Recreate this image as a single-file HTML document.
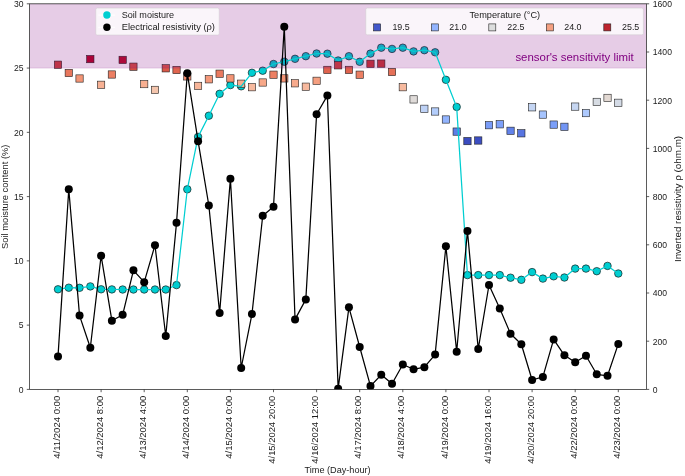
<!DOCTYPE html>
<html><head><meta charset="utf-8"><style>
html,body{margin:0;padding:0;background:#fff;}
body{width:685px;height:476px;overflow:hidden;font-family:"Liberation Sans",sans-serif;}
svg{display:block;will-change:transform;}
</style></head><body>
<svg width="685" height="476" viewBox="0 0 685 476" font-family="Liberation Sans, sans-serif">
<rect x="0" y="0" width="685" height="476" fill="#fff"/>
<defs><clipPath id="ax"><rect x="29.6" y="3.8" width="616.80" height="385.60"/></clipPath></defs>
<g clip-path="url(#ax)">
<circle cx="58.00" cy="289.30" r="3.75" fill="#00ced1" stroke="#111" stroke-width="0.65"/>
<circle cx="68.78" cy="287.70" r="3.75" fill="#00ced1" stroke="#111" stroke-width="0.65"/>
<circle cx="79.55" cy="287.80" r="3.75" fill="#00ced1" stroke="#111" stroke-width="0.65"/>
<circle cx="90.33" cy="286.40" r="3.75" fill="#00ced1" stroke="#111" stroke-width="0.65"/>
<circle cx="101.10" cy="289.30" r="3.75" fill="#00ced1" stroke="#111" stroke-width="0.65"/>
<circle cx="111.88" cy="289.40" r="3.75" fill="#00ced1" stroke="#111" stroke-width="0.65"/>
<circle cx="122.65" cy="289.50" r="3.75" fill="#00ced1" stroke="#111" stroke-width="0.65"/>
<circle cx="133.43" cy="289.50" r="3.75" fill="#00ced1" stroke="#111" stroke-width="0.65"/>
<circle cx="144.20" cy="289.50" r="3.75" fill="#00ced1" stroke="#111" stroke-width="0.65"/>
<circle cx="154.98" cy="289.50" r="3.75" fill="#00ced1" stroke="#111" stroke-width="0.65"/>
<circle cx="165.75" cy="289.50" r="3.75" fill="#00ced1" stroke="#111" stroke-width="0.65"/>
<circle cx="176.53" cy="285.10" r="3.75" fill="#00ced1" stroke="#111" stroke-width="0.65"/>
<circle cx="187.30" cy="189.30" r="3.75" fill="#00ced1" stroke="#111" stroke-width="0.65"/>
<circle cx="198.08" cy="136.90" r="3.75" fill="#00ced1" stroke="#111" stroke-width="0.65"/>
<circle cx="208.85" cy="115.70" r="3.75" fill="#00ced1" stroke="#111" stroke-width="0.65"/>
<circle cx="219.62" cy="93.80" r="3.75" fill="#00ced1" stroke="#111" stroke-width="0.65"/>
<circle cx="230.40" cy="85.10" r="3.75" fill="#00ced1" stroke="#111" stroke-width="0.65"/>
<circle cx="241.18" cy="86.30" r="3.75" fill="#00ced1" stroke="#111" stroke-width="0.65"/>
<circle cx="251.95" cy="72.80" r="3.75" fill="#00ced1" stroke="#111" stroke-width="0.65"/>
<circle cx="262.73" cy="70.70" r="3.75" fill="#00ced1" stroke="#111" stroke-width="0.65"/>
<circle cx="273.50" cy="64.00" r="3.75" fill="#00ced1" stroke="#111" stroke-width="0.65"/>
<circle cx="284.27" cy="61.70" r="3.75" fill="#00ced1" stroke="#111" stroke-width="0.65"/>
<circle cx="295.05" cy="58.80" r="3.75" fill="#00ced1" stroke="#111" stroke-width="0.65"/>
<circle cx="305.83" cy="56.20" r="3.75" fill="#00ced1" stroke="#111" stroke-width="0.65"/>
<circle cx="316.60" cy="53.50" r="3.75" fill="#00ced1" stroke="#111" stroke-width="0.65"/>
<circle cx="327.38" cy="53.70" r="3.75" fill="#00ced1" stroke="#111" stroke-width="0.65"/>
<circle cx="338.15" cy="60.50" r="3.75" fill="#00ced1" stroke="#111" stroke-width="0.65"/>
<circle cx="348.93" cy="56.20" r="3.75" fill="#00ced1" stroke="#111" stroke-width="0.65"/>
<circle cx="359.70" cy="61.80" r="3.75" fill="#00ced1" stroke="#111" stroke-width="0.65"/>
<circle cx="370.48" cy="53.60" r="3.75" fill="#00ced1" stroke="#111" stroke-width="0.65"/>
<circle cx="381.25" cy="47.70" r="3.75" fill="#00ced1" stroke="#111" stroke-width="0.65"/>
<circle cx="392.03" cy="48.90" r="3.75" fill="#00ced1" stroke="#111" stroke-width="0.65"/>
<circle cx="402.80" cy="47.70" r="3.75" fill="#00ced1" stroke="#111" stroke-width="0.65"/>
<circle cx="413.57" cy="51.40" r="3.75" fill="#00ced1" stroke="#111" stroke-width="0.65"/>
<circle cx="424.35" cy="50.20" r="3.75" fill="#00ced1" stroke="#111" stroke-width="0.65"/>
<circle cx="435.12" cy="52.30" r="3.75" fill="#00ced1" stroke="#111" stroke-width="0.65"/>
<circle cx="445.90" cy="79.80" r="3.75" fill="#00ced1" stroke="#111" stroke-width="0.65"/>
<circle cx="456.68" cy="106.90" r="3.75" fill="#00ced1" stroke="#111" stroke-width="0.65"/>
<circle cx="467.45" cy="275.10" r="3.75" fill="#00ced1" stroke="#111" stroke-width="0.65"/>
<circle cx="478.23" cy="275.10" r="3.75" fill="#00ced1" stroke="#111" stroke-width="0.65"/>
<circle cx="489.00" cy="275.10" r="3.75" fill="#00ced1" stroke="#111" stroke-width="0.65"/>
<circle cx="499.78" cy="275.10" r="3.75" fill="#00ced1" stroke="#111" stroke-width="0.65"/>
<circle cx="510.55" cy="277.70" r="3.75" fill="#00ced1" stroke="#111" stroke-width="0.65"/>
<circle cx="521.33" cy="279.80" r="3.75" fill="#00ced1" stroke="#111" stroke-width="0.65"/>
<circle cx="532.10" cy="272.10" r="3.75" fill="#00ced1" stroke="#111" stroke-width="0.65"/>
<circle cx="542.88" cy="278.60" r="3.75" fill="#00ced1" stroke="#111" stroke-width="0.65"/>
<circle cx="553.65" cy="276.30" r="3.75" fill="#00ced1" stroke="#111" stroke-width="0.65"/>
<circle cx="564.42" cy="277.50" r="3.75" fill="#00ced1" stroke="#111" stroke-width="0.65"/>
<circle cx="575.20" cy="268.60" r="3.75" fill="#00ced1" stroke="#111" stroke-width="0.65"/>
<circle cx="585.98" cy="268.60" r="3.75" fill="#00ced1" stroke="#111" stroke-width="0.65"/>
<circle cx="596.75" cy="271.20" r="3.75" fill="#00ced1" stroke="#111" stroke-width="0.65"/>
<circle cx="607.52" cy="265.90" r="3.75" fill="#00ced1" stroke="#111" stroke-width="0.65"/>
<circle cx="618.30" cy="273.50" r="3.75" fill="#00ced1" stroke="#111" stroke-width="0.65"/>
<rect x="54.35" y="61.05" width="7.3" height="7.3" fill="#cc403a" stroke="#222" stroke-width="0.6"/>
<rect x="65.12" y="69.35" width="7.3" height="7.3" fill="#e8765c" stroke="#222" stroke-width="0.6"/>
<rect x="75.90" y="74.85" width="7.3" height="7.3" fill="#f39475" stroke="#222" stroke-width="0.6"/>
<rect x="86.67" y="55.45" width="7.3" height="7.3" fill="#b40426" stroke="#222" stroke-width="0.6"/>
<rect x="97.45" y="81.15" width="7.3" height="7.3" fill="#f7b194" stroke="#222" stroke-width="0.6"/>
<rect x="108.22" y="70.85" width="7.3" height="7.3" fill="#ec7f63" stroke="#222" stroke-width="0.6"/>
<rect x="119.00" y="56.25" width="7.3" height="7.3" fill="#b70d28" stroke="#222" stroke-width="0.6"/>
<rect x="129.78" y="63.05" width="7.3" height="7.3" fill="#d44e41" stroke="#222" stroke-width="0.6"/>
<rect x="140.55" y="80.45" width="7.3" height="7.3" fill="#f7af91" stroke="#222" stroke-width="0.6"/>
<rect x="151.33" y="86.25" width="7.3" height="7.3" fill="#f4c5ad" stroke="#222" stroke-width="0.6"/>
<rect x="162.10" y="64.65" width="7.3" height="7.3" fill="#d95847" stroke="#222" stroke-width="0.6"/>
<rect x="172.88" y="66.35" width="7.3" height="7.3" fill="#e0654f" stroke="#222" stroke-width="0.6"/>
<rect x="183.65" y="72.75" width="7.3" height="7.3" fill="#f08a6c" stroke="#222" stroke-width="0.6"/>
<rect x="194.43" y="82.25" width="7.3" height="7.3" fill="#f7b599" stroke="#222" stroke-width="0.6"/>
<rect x="205.20" y="75.65" width="7.3" height="7.3" fill="#f4987a" stroke="#222" stroke-width="0.6"/>
<rect x="215.97" y="70.05" width="7.3" height="7.3" fill="#e97a5f" stroke="#222" stroke-width="0.6"/>
<rect x="226.75" y="74.75" width="7.3" height="7.3" fill="#f39475" stroke="#222" stroke-width="0.6"/>
<rect x="237.53" y="80.05" width="7.3" height="7.3" fill="#f7ac8e" stroke="#222" stroke-width="0.6"/>
<rect x="248.30" y="83.55" width="7.3" height="7.3" fill="#f7ba9f" stroke="#222" stroke-width="0.6"/>
<rect x="259.08" y="78.85" width="7.3" height="7.3" fill="#f7a889" stroke="#222" stroke-width="0.6"/>
<rect x="269.85" y="71.05" width="7.3" height="7.3" fill="#ec7f63" stroke="#222" stroke-width="0.6"/>
<rect x="280.62" y="74.75" width="7.3" height="7.3" fill="#f39475" stroke="#222" stroke-width="0.6"/>
<rect x="291.40" y="79.65" width="7.3" height="7.3" fill="#f7aa8c" stroke="#222" stroke-width="0.6"/>
<rect x="302.18" y="83.05" width="7.3" height="7.3" fill="#f7b99e" stroke="#222" stroke-width="0.6"/>
<rect x="312.95" y="77.15" width="7.3" height="7.3" fill="#f59f80" stroke="#222" stroke-width="0.6"/>
<rect x="323.73" y="66.25" width="7.3" height="7.3" fill="#df634e" stroke="#222" stroke-width="0.6"/>
<rect x="334.50" y="61.65" width="7.3" height="7.3" fill="#cf453c" stroke="#222" stroke-width="0.6"/>
<rect x="345.28" y="66.25" width="7.3" height="7.3" fill="#df634e" stroke="#222" stroke-width="0.6"/>
<rect x="356.05" y="71.05" width="7.3" height="7.3" fill="#ec7f63" stroke="#222" stroke-width="0.6"/>
<rect x="366.83" y="60.15" width="7.3" height="7.3" fill="#c83836" stroke="#222" stroke-width="0.6"/>
<rect x="377.60" y="59.95" width="7.3" height="7.3" fill="#c83836" stroke="#222" stroke-width="0.6"/>
<rect x="388.38" y="68.35" width="7.3" height="7.3" fill="#e57058" stroke="#222" stroke-width="0.6"/>
<rect x="399.15" y="83.55" width="7.3" height="7.3" fill="#f7ba9f" stroke="#222" stroke-width="0.6"/>
<rect x="409.93" y="95.75" width="7.3" height="7.3" fill="#dfdbd9" stroke="#222" stroke-width="0.6"/>
<rect x="420.70" y="105.15" width="7.3" height="7.3" fill="#bed2f6" stroke="#222" stroke-width="0.6"/>
<rect x="431.48" y="107.85" width="7.3" height="7.3" fill="#b3cdfb" stroke="#222" stroke-width="0.6"/>
<rect x="442.25" y="115.85" width="7.3" height="7.3" fill="#92b4fe" stroke="#222" stroke-width="0.6"/>
<rect x="453.03" y="127.95" width="7.3" height="7.3" fill="#5e7de7" stroke="#222" stroke-width="0.6"/>
<rect x="463.80" y="137.45" width="7.3" height="7.3" fill="#3b4cc0" stroke="#222" stroke-width="0.6"/>
<rect x="474.58" y="136.85" width="7.3" height="7.3" fill="#3c4ec2" stroke="#222" stroke-width="0.6"/>
<rect x="485.35" y="121.55" width="7.3" height="7.3" fill="#799cf8" stroke="#222" stroke-width="0.6"/>
<rect x="496.13" y="120.65" width="7.3" height="7.3" fill="#7da0f9" stroke="#222" stroke-width="0.6"/>
<rect x="506.90" y="127.15" width="7.3" height="7.3" fill="#6282ea" stroke="#222" stroke-width="0.6"/>
<rect x="517.68" y="129.65" width="7.3" height="7.3" fill="#5875e1" stroke="#222" stroke-width="0.6"/>
<rect x="528.45" y="103.65" width="7.3" height="7.3" fill="#c4d5f3" stroke="#222" stroke-width="0.6"/>
<rect x="539.23" y="110.95" width="7.3" height="7.3" fill="#a6c4fe" stroke="#222" stroke-width="0.6"/>
<rect x="550.00" y="120.95" width="7.3" height="7.3" fill="#7b9ff9" stroke="#222" stroke-width="0.6"/>
<rect x="560.77" y="123.15" width="7.3" height="7.3" fill="#7295f4" stroke="#222" stroke-width="0.6"/>
<rect x="571.55" y="102.95" width="7.3" height="7.3" fill="#c6d6f1" stroke="#222" stroke-width="0.6"/>
<rect x="582.33" y="109.45" width="7.3" height="7.3" fill="#adc9fd" stroke="#222" stroke-width="0.6"/>
<rect x="593.10" y="98.25" width="7.3" height="7.3" fill="#d7dce3" stroke="#222" stroke-width="0.6"/>
<rect x="603.88" y="94.25" width="7.3" height="7.3" fill="#e3d9d3" stroke="#222" stroke-width="0.6"/>
<rect x="614.65" y="99.15" width="7.3" height="7.3" fill="#d4dbe6" stroke="#222" stroke-width="0.6"/>
<rect x="29.6" y="3.8" width="616.80" height="64.27" fill="#800080" fill-opacity="0.2" stroke="#800080" stroke-opacity="0.2" stroke-width="0.75"/>
<polyline points="58.00,289.30 68.78,287.70 79.55,287.80 90.33,286.40 101.10,289.30 111.88,289.40 122.65,289.50 133.43,289.50 144.20,289.50 154.98,289.50 165.75,289.50 176.53,285.10 187.30,189.30 198.08,136.90 208.85,115.70 219.62,93.80 230.40,85.10 241.18,86.30 251.95,72.80 262.73,70.70 273.50,64.00 284.27,61.70 295.05,58.80 305.83,56.20 316.60,53.50 327.38,53.70 338.15,60.50 348.93,56.20 359.70,61.80 370.48,53.60 381.25,47.70 392.03,48.90 402.80,47.70 413.57,51.40 424.35,50.20 435.12,52.30 445.90,79.80 456.68,106.90 467.45,275.10 478.23,275.10 489.00,275.10 499.78,275.10 510.55,277.70 521.33,279.80 532.10,272.10 542.88,278.60 553.65,276.30 564.42,277.50 575.20,268.60 585.98,268.60 596.75,271.20 607.52,265.90 618.30,273.50" fill="none" stroke="#00ced1" stroke-width="1.25" stroke-linejoin="round"/>
<text x="515.4" y="61.3" font-size="10.6" fill="#800080" textLength="118.4" lengthAdjust="spacingAndGlyphs">sensor's sensitivity limit</text>
<polyline points="58.00,356.40 68.78,189.25 79.55,315.60 90.33,347.80 101.10,255.70 111.88,320.70 122.65,314.80 133.43,270.30 144.20,282.20 154.98,245.20 165.75,336.00 176.53,222.70 187.30,73.20 198.08,141.20 208.85,205.50 219.62,312.90 230.40,178.70 241.18,368.00 251.95,314.10 262.73,215.70 273.50,206.70 284.27,26.75 295.05,319.40 305.83,299.40 316.60,114.30 327.38,95.60 338.15,388.70 348.93,307.30 359.70,347.00 370.48,386.10 381.25,374.80 392.03,383.70 402.80,364.50 413.57,369.30 424.35,367.20 435.12,354.60 445.90,246.30 456.68,351.70 467.45,231.00 478.23,349.10 489.00,285.00 499.78,308.40 510.55,333.80 521.33,344.20 532.10,380.00 542.88,376.90 553.65,339.40 564.42,355.30 575.20,362.30 585.98,355.70 596.75,374.30 607.52,375.80 618.30,343.90" fill="none" stroke="#000" stroke-width="1.25" stroke-linejoin="round"/>
<circle cx="58.00" cy="356.40" r="4.0" fill="#000"/>
<circle cx="68.78" cy="189.25" r="4.0" fill="#000"/>
<circle cx="79.55" cy="315.60" r="4.0" fill="#000"/>
<circle cx="90.33" cy="347.80" r="4.0" fill="#000"/>
<circle cx="101.10" cy="255.70" r="4.0" fill="#000"/>
<circle cx="111.88" cy="320.70" r="4.0" fill="#000"/>
<circle cx="122.65" cy="314.80" r="4.0" fill="#000"/>
<circle cx="133.43" cy="270.30" r="4.0" fill="#000"/>
<circle cx="144.20" cy="282.20" r="4.0" fill="#000"/>
<circle cx="154.98" cy="245.20" r="4.0" fill="#000"/>
<circle cx="165.75" cy="336.00" r="4.0" fill="#000"/>
<circle cx="176.53" cy="222.70" r="4.0" fill="#000"/>
<circle cx="187.30" cy="73.20" r="4.0" fill="#000"/>
<circle cx="198.08" cy="141.20" r="4.0" fill="#000"/>
<circle cx="208.85" cy="205.50" r="4.0" fill="#000"/>
<circle cx="219.62" cy="312.90" r="4.0" fill="#000"/>
<circle cx="230.40" cy="178.70" r="4.0" fill="#000"/>
<circle cx="241.18" cy="368.00" r="4.0" fill="#000"/>
<circle cx="251.95" cy="314.10" r="4.0" fill="#000"/>
<circle cx="262.73" cy="215.70" r="4.0" fill="#000"/>
<circle cx="273.50" cy="206.70" r="4.0" fill="#000"/>
<circle cx="284.27" cy="26.75" r="4.0" fill="#000"/>
<circle cx="295.05" cy="319.40" r="4.0" fill="#000"/>
<circle cx="305.83" cy="299.40" r="4.0" fill="#000"/>
<circle cx="316.60" cy="114.30" r="4.0" fill="#000"/>
<circle cx="327.38" cy="95.60" r="4.0" fill="#000"/>
<circle cx="338.15" cy="388.70" r="4.0" fill="#000"/>
<circle cx="348.93" cy="307.30" r="4.0" fill="#000"/>
<circle cx="359.70" cy="347.00" r="4.0" fill="#000"/>
<circle cx="370.48" cy="386.10" r="4.0" fill="#000"/>
<circle cx="381.25" cy="374.80" r="4.0" fill="#000"/>
<circle cx="392.03" cy="383.70" r="4.0" fill="#000"/>
<circle cx="402.80" cy="364.50" r="4.0" fill="#000"/>
<circle cx="413.57" cy="369.30" r="4.0" fill="#000"/>
<circle cx="424.35" cy="367.20" r="4.0" fill="#000"/>
<circle cx="435.12" cy="354.60" r="4.0" fill="#000"/>
<circle cx="445.90" cy="246.30" r="4.0" fill="#000"/>
<circle cx="456.68" cy="351.70" r="4.0" fill="#000"/>
<circle cx="467.45" cy="231.00" r="4.0" fill="#000"/>
<circle cx="478.23" cy="349.10" r="4.0" fill="#000"/>
<circle cx="489.00" cy="285.00" r="4.0" fill="#000"/>
<circle cx="499.78" cy="308.40" r="4.0" fill="#000"/>
<circle cx="510.55" cy="333.80" r="4.0" fill="#000"/>
<circle cx="521.33" cy="344.20" r="4.0" fill="#000"/>
<circle cx="532.10" cy="380.00" r="4.0" fill="#000"/>
<circle cx="542.88" cy="376.90" r="4.0" fill="#000"/>
<circle cx="553.65" cy="339.40" r="4.0" fill="#000"/>
<circle cx="564.42" cy="355.30" r="4.0" fill="#000"/>
<circle cx="575.20" cy="362.30" r="4.0" fill="#000"/>
<circle cx="585.98" cy="355.70" r="4.0" fill="#000"/>
<circle cx="596.75" cy="374.30" r="4.0" fill="#000"/>
<circle cx="607.52" cy="375.80" r="4.0" fill="#000"/>
<circle cx="618.30" cy="343.90" r="4.0" fill="#000"/>
</g>
<rect x="29.6" y="3.8" width="616.80" height="385.60" fill="none" stroke="#333" stroke-width="0.8"/>
<line x1="26.80" y1="389.40" x2="29.6" y2="389.40" stroke="#333" stroke-width="0.8"/>
<text x="23.6" y="392.70" font-size="8.6" fill="#1a1a1a" text-anchor="end">0</text>
<line x1="26.80" y1="325.13" x2="29.6" y2="325.13" stroke="#333" stroke-width="0.8"/>
<text x="23.6" y="328.43" font-size="8.6" fill="#1a1a1a" text-anchor="end">5</text>
<line x1="26.80" y1="260.87" x2="29.6" y2="260.87" stroke="#333" stroke-width="0.8"/>
<text x="23.6" y="264.17" font-size="8.6" fill="#1a1a1a" text-anchor="end">10</text>
<line x1="26.80" y1="196.60" x2="29.6" y2="196.60" stroke="#333" stroke-width="0.8"/>
<text x="23.6" y="199.90" font-size="8.6" fill="#1a1a1a" text-anchor="end">15</text>
<line x1="26.80" y1="132.33" x2="29.6" y2="132.33" stroke="#333" stroke-width="0.8"/>
<text x="23.6" y="135.63" font-size="8.6" fill="#1a1a1a" text-anchor="end">20</text>
<line x1="26.80" y1="68.07" x2="29.6" y2="68.07" stroke="#333" stroke-width="0.8"/>
<text x="23.6" y="71.37" font-size="8.6" fill="#1a1a1a" text-anchor="end">25</text>
<line x1="26.80" y1="3.80" x2="29.6" y2="3.80" stroke="#333" stroke-width="0.8"/>
<text x="23.6" y="7.10" font-size="8.6" fill="#1a1a1a" text-anchor="end">30</text>
<line x1="646.4" y1="389.40" x2="649.20" y2="389.40" stroke="#333" stroke-width="0.8"/>
<text x="652.8" y="392.70" font-size="8.6" fill="#1a1a1a">0</text>
<line x1="646.4" y1="341.20" x2="649.20" y2="341.20" stroke="#333" stroke-width="0.8"/>
<text x="652.8" y="344.50" font-size="8.6" fill="#1a1a1a">200</text>
<line x1="646.4" y1="293.00" x2="649.20" y2="293.00" stroke="#333" stroke-width="0.8"/>
<text x="652.8" y="296.30" font-size="8.6" fill="#1a1a1a">400</text>
<line x1="646.4" y1="244.80" x2="649.20" y2="244.80" stroke="#333" stroke-width="0.8"/>
<text x="652.8" y="248.10" font-size="8.6" fill="#1a1a1a">600</text>
<line x1="646.4" y1="196.60" x2="649.20" y2="196.60" stroke="#333" stroke-width="0.8"/>
<text x="652.8" y="199.90" font-size="8.6" fill="#1a1a1a">800</text>
<line x1="646.4" y1="148.40" x2="649.20" y2="148.40" stroke="#333" stroke-width="0.8"/>
<text x="652.8" y="151.70" font-size="8.6" fill="#1a1a1a">1000</text>
<line x1="646.4" y1="100.20" x2="649.20" y2="100.20" stroke="#333" stroke-width="0.8"/>
<text x="652.8" y="103.50" font-size="8.6" fill="#1a1a1a">1200</text>
<line x1="646.4" y1="52.00" x2="649.20" y2="52.00" stroke="#333" stroke-width="0.8"/>
<text x="652.8" y="55.30" font-size="8.6" fill="#1a1a1a">1400</text>
<line x1="646.4" y1="3.80" x2="649.20" y2="3.80" stroke="#333" stroke-width="0.8"/>
<text x="652.8" y="7.10" font-size="8.6" fill="#1a1a1a">1600</text>
<line x1="58.00" y1="389.4" x2="58.00" y2="392.20" stroke="#333" stroke-width="0.8"/>
<text transform="translate(59.60,395.8) rotate(-90)" font-size="8.3" fill="#1a1a1a" text-anchor="end" textLength="62.9" lengthAdjust="spacingAndGlyphs">4/11/2024 0:00</text>
<line x1="101.10" y1="389.4" x2="101.10" y2="392.20" stroke="#333" stroke-width="0.8"/>
<text transform="translate(102.70,395.8) rotate(-90)" font-size="8.3" fill="#1a1a1a" text-anchor="end" textLength="62.9" lengthAdjust="spacingAndGlyphs">4/12/2024 8:00</text>
<line x1="144.20" y1="389.4" x2="144.20" y2="392.20" stroke="#333" stroke-width="0.8"/>
<text transform="translate(145.80,395.8) rotate(-90)" font-size="8.3" fill="#1a1a1a" text-anchor="end" textLength="62.9" lengthAdjust="spacingAndGlyphs">4/13/2024 4:00</text>
<line x1="187.30" y1="389.4" x2="187.30" y2="392.20" stroke="#333" stroke-width="0.8"/>
<text transform="translate(188.90,395.8) rotate(-90)" font-size="8.3" fill="#1a1a1a" text-anchor="end" textLength="62.9" lengthAdjust="spacingAndGlyphs">4/14/2024 0:00</text>
<line x1="230.40" y1="389.4" x2="230.40" y2="392.20" stroke="#333" stroke-width="0.8"/>
<text transform="translate(232.00,395.8) rotate(-90)" font-size="8.3" fill="#1a1a1a" text-anchor="end" textLength="62.9" lengthAdjust="spacingAndGlyphs">4/15/2024 0:00</text>
<line x1="273.50" y1="389.4" x2="273.50" y2="392.20" stroke="#333" stroke-width="0.8"/>
<text transform="translate(275.10,395.8) rotate(-90)" font-size="8.3" fill="#1a1a1a" text-anchor="end" textLength="67.9" lengthAdjust="spacingAndGlyphs">4/15/2024 20:00</text>
<line x1="316.60" y1="389.4" x2="316.60" y2="392.20" stroke="#333" stroke-width="0.8"/>
<text transform="translate(318.20,395.8) rotate(-90)" font-size="8.3" fill="#1a1a1a" text-anchor="end" textLength="67.9" lengthAdjust="spacingAndGlyphs">4/16/2024 12:00</text>
<line x1="359.70" y1="389.4" x2="359.70" y2="392.20" stroke="#333" stroke-width="0.8"/>
<text transform="translate(361.30,395.8) rotate(-90)" font-size="8.3" fill="#1a1a1a" text-anchor="end" textLength="62.9" lengthAdjust="spacingAndGlyphs">4/17/2024 8:00</text>
<line x1="402.80" y1="389.4" x2="402.80" y2="392.20" stroke="#333" stroke-width="0.8"/>
<text transform="translate(404.40,395.8) rotate(-90)" font-size="8.3" fill="#1a1a1a" text-anchor="end" textLength="62.9" lengthAdjust="spacingAndGlyphs">4/18/2024 4:00</text>
<line x1="445.90" y1="389.4" x2="445.90" y2="392.20" stroke="#333" stroke-width="0.8"/>
<text transform="translate(447.50,395.8) rotate(-90)" font-size="8.3" fill="#1a1a1a" text-anchor="end" textLength="62.9" lengthAdjust="spacingAndGlyphs">4/19/2024 0:00</text>
<line x1="489.00" y1="389.4" x2="489.00" y2="392.20" stroke="#333" stroke-width="0.8"/>
<text transform="translate(490.60,395.8) rotate(-90)" font-size="8.3" fill="#1a1a1a" text-anchor="end" textLength="67.9" lengthAdjust="spacingAndGlyphs">4/19/2024 16:00</text>
<line x1="532.10" y1="389.4" x2="532.10" y2="392.20" stroke="#333" stroke-width="0.8"/>
<text transform="translate(533.70,395.8) rotate(-90)" font-size="8.3" fill="#1a1a1a" text-anchor="end" textLength="67.9" lengthAdjust="spacingAndGlyphs">4/20/2024 20:00</text>
<line x1="575.20" y1="389.4" x2="575.20" y2="392.20" stroke="#333" stroke-width="0.8"/>
<text transform="translate(576.80,395.8) rotate(-90)" font-size="8.3" fill="#1a1a1a" text-anchor="end" textLength="62.9" lengthAdjust="spacingAndGlyphs">4/22/2024 0:00</text>
<line x1="618.30" y1="389.4" x2="618.30" y2="392.20" stroke="#333" stroke-width="0.8"/>
<text transform="translate(619.90,395.8) rotate(-90)" font-size="8.3" fill="#1a1a1a" text-anchor="end" textLength="62.9" lengthAdjust="spacingAndGlyphs">4/23/2024 0:00</text>
<text x="337.6" y="472.8" font-size="8.3" fill="#1a1a1a" text-anchor="middle" textLength="66.1" lengthAdjust="spacingAndGlyphs">Time (Day-hour)</text>
<text transform="translate(7.9,196.8) rotate(-90)" font-size="8.3" fill="#1a1a1a" text-anchor="middle" textLength="104.4" lengthAdjust="spacingAndGlyphs">Soil moisture content (%)</text>
<text transform="translate(681.2,199.0) rotate(-90)" font-size="8.3" fill="#1a1a1a" text-anchor="middle" textLength="126.2" lengthAdjust="spacingAndGlyphs">Inverted resistivity ρ (ohm.m)</text>
<rect x="95.8" y="8.1" width="123.4" height="26.9" rx="1.6" fill="#ffffff" fill-opacity="0.8" stroke="#cccccc" stroke-opacity="0.8" stroke-width="0.6"/>
<line x1="98.2" y1="15.05" x2="115.2" y2="15.05" stroke="#fff" stroke-width="1"/>
<line x1="98.2" y1="27.3" x2="115.2" y2="27.3" stroke="#fff" stroke-width="1"/>
<circle cx="106.9" cy="15.05" r="3.7" fill="#00ced1"/>
<circle cx="106.9" cy="27.3" r="3.7" fill="#000"/>
<text x="121.7" y="18.0" font-size="8.3" fill="#1a1a1a" textLength="52.5" lengthAdjust="spacingAndGlyphs">Soil moisture</text>
<text x="121.7" y="30.3" font-size="8.3" fill="#1a1a1a" textLength="93.3" lengthAdjust="spacingAndGlyphs">Electrical resistivity (ρ)</text>
<rect x="365.8" y="8.1" width="277.6" height="26.7" rx="1.6" fill="#ffffff" fill-opacity="0.8" stroke="#cccccc" stroke-opacity="0.8" stroke-width="0.6"/>
<text x="504.8" y="17.9" font-size="8.3" fill="#1a1a1a" text-anchor="middle" textLength="70.6" lengthAdjust="spacingAndGlyphs">Temperature (°C)</text>
<rect x="373.60" y="23.90" width="7" height="7" fill="#4358cb" stroke="#222" stroke-width="0.6"/>
<text x="392.4" y="30.4" font-size="8.3" fill="#1a1a1a" textLength="17.3" lengthAdjust="spacingAndGlyphs">19.5</text>
<rect x="431.40" y="23.90" width="7" height="7" fill="#92b4fe" stroke="#222" stroke-width="0.6"/>
<text x="449.3" y="30.4" font-size="8.3" fill="#1a1a1a" textLength="17.3" lengthAdjust="spacingAndGlyphs">21.0</text>
<rect x="488.80" y="23.90" width="7" height="7" fill="#dcdddd" stroke="#222" stroke-width="0.6"/>
<text x="507.2" y="30.4" font-size="8.3" fill="#1a1a1a" textLength="17.3" lengthAdjust="spacingAndGlyphs">22.5</text>
<rect x="546.40" y="23.90" width="7" height="7" fill="#f5a081" stroke="#222" stroke-width="0.6"/>
<text x="564.2" y="30.4" font-size="8.3" fill="#1a1a1a" textLength="17.3" lengthAdjust="spacingAndGlyphs">24.0</text>
<rect x="603.80" y="23.90" width="7" height="7" fill="#be242e" stroke="#222" stroke-width="0.6"/>
<text x="622.0" y="30.4" font-size="8.3" fill="#1a1a1a" textLength="17.3" lengthAdjust="spacingAndGlyphs">25.5</text>
</svg>
</body></html>
